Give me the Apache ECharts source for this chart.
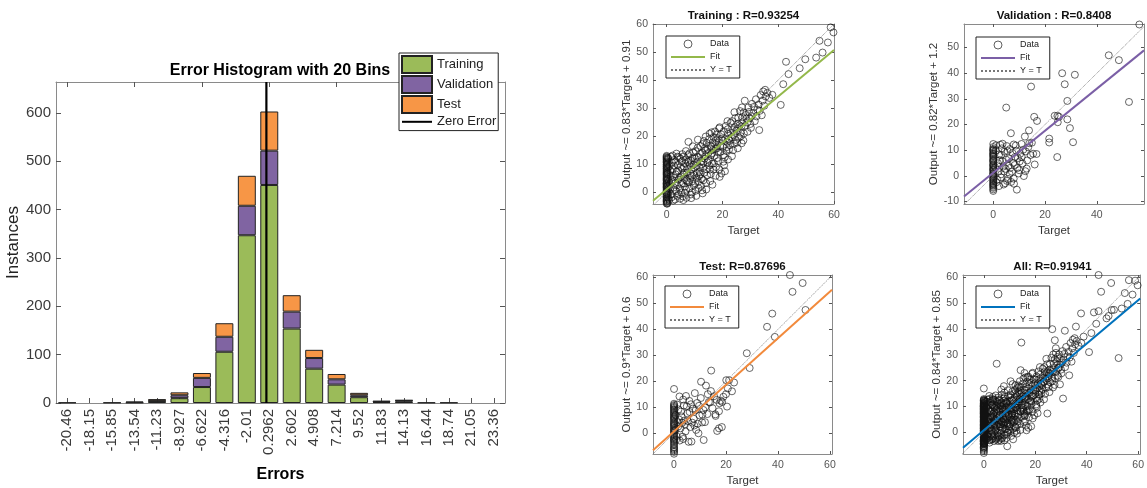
<!DOCTYPE html>
<html>
<head>
<meta charset="utf-8">
<script src="https://cdn.jsdelivr.net/npm/echarts@6/dist/echarts.min.js"></script>
<style>
html,body{margin:0;padding:0;background:#fff;}
#c{width:1147px;height:488px;}
</style>
</head>
<body>
<div id="c"></div>
<script>
// ---------------- DATA ----------------
const binLabels = ['-20.46','-18.15','-15.85','-13.54','-11.23','-8.927','-6.622','-4.316','-2.01','0.2962','2.602','4.908','7.214','9.52','11.83','14.13','16.44','18.74','21.05','23.36'];
const trainCounts = [1,0,1,1,4,10,33,106,347,451,154,71,38,12,2,3,1,1,0,0];
const valCounts   = [0,0,0,2,1,6,19,31,61,71,35,22,11,4,3,2,0,0,0,0];
const testCounts  = [0,0,0,0,3,6,10,28,62,81,34,17,11,5,0,1,0,0,0,0];
const histYMax = 664;
const histYTicks = [0,100,200,300,400,500,600];
const zeroError = 0;

const panelNames = ['Training','Validation','Test','All'];
const panelSep = [' : ',' : ',': ',': '];
const rValues = ['0.93254','0.8408','0.87696','0.91941'];
const fitSlopes = [0.83,0.82,0.9,0.84];
const fitIntercepts = [0.91,1.2,0.6,0.85];

const trainPts = [
[0,-4.4],[0,-3.6],[0,-3.0],[0,-2.1],[0,-1.5],[0,-0.8],[0,-0.2],[0,0.4],[0,1.3],[0,1.9],[0,2.6],[0,3.1],[0,4.0],[0,4.6],[0,5.3],[0,6.1],[0,6.7],[0,7.4],[0,8.2],[0,8.9],[0,9.6],[0,10.4],[0,11.0],[0,11.7],[0,12.3],[0,12.9],
[0,-4.1],[0,-3.3],[0,-2.6],[0,-1.8],[0,-1.0],[0,-0.4],[0,0.1],[0,0.8],[0,1.6],[0,2.2],[0,2.9],[0,3.5],[0,4.3],[0,4.9],[0,5.7],[0,6.4],[0,7.0],[0,7.8],[0,8.5],[0,9.2],[0,9.9],[0,10.7],[0,11.4],[0,12.0],[0,12.6],
[0.2,-4.2],[0.2,2.1],[0.3,6.4],[0.3,10.1],[0.4,-0.4],[0.4,4.6],[0.5,8.8],[0.5,12.2],[0.6,1.3],[0.6,-2.2],
[0.3,-3.9],[0.4,7.1],[0.5,-1.1],[0.6,11.8],[0.7,3.6],[0.9,-2.8],[1.0,9.2],[1.2,0.9],[1.4,5.7],[1.6,12.6],[1.8,-1.9],[2.0,4.3],[2.2,8.1],[2.5,1.6],[2.7,11.4],[3.0,-2.7],[3.2,6.3],[3.5,13.7],[3.7,2.4],[4.0,9.6],[4.3,-0.7],[4.6,5.1],[4.9,11.9],[5.2,2.9],[5.5,8.3],[5.8,-1.6],[6.1,12.7],[6.4,4.6],[6.7,10.1],[7.0,0.8],[7.3,6.9],[7.7,13.2],[7.8,17.9],[8.0,3.4],[8.3,9.5],[8.7,-0.9],[9.0,5.8],[9.3,12.1],[9.7,2.3],[10.0,8.7],[10.4,14.6],[10.7,4.9],[11.0,10.8],[11.4,1.4],[11.8,7.2],[12.1,13.6],[12.5,9.9],[12.9,17.1],[13.2,4.2],[13.6,11.9],[14.0,19.8],[14.3,8.1],[14.7,15.3],[15.1,11.2],[15.4,20.8],[15.8,6.4],[16.2,13.8],[16.5,17.7],[16.9,10.2],[17.3,21.6],[17.6,15.4],[18.0,12.1],[18.4,19.2],[18.8,22.7],[19.2,16.3],[19.6,6.6],[20.0,18.4],[20.4,13.2],[20.9,7.4],[21.2,23.6],[21.6,17.9],[22.0,20.8],[22.4,15.2],[22.9,24.7],[23.3,19.6],[23.7,22.1],[24.2,17.3],[24.6,26.4],[25.0,21.8],[25.5,24.3],[25.9,19.4],[26.3,28.9],[26.8,23.4],[27.2,26.7],[27.7,20.9],[28.0,32.6],[28.4,27.5],[28.9,24.8],[29.3,30.2],[29.8,26.3],[30.2,22.9],[30.6,31.5],[31.1,28.2],[31.6,25.3],[32.0,33.1],[32.5,29.4],[33.0,31.2],[33.2,22.1],[33.7,34.6],[34.1,27.4],[34.6,35.9],[35.0,30.8],[35.5,34.1],[36.1,35.4],[36.8,33.6],[37.9,34.7],
[1.1,2.8],[1.9,10.5],[2.8,5.2],[3.4,0.3],[4.1,7.7],[4.8,-2.4],[5.4,10.9],[6.0,6.2],[6.6,-0.3],[7.2,4.1],[7.9,11.1],[8.5,6.6],[9.1,-0.2],[9.6,9.8],[10.2,3.1],[10.9,12.6],[11.6,5.6],[12.3,2.2],[13.0,8.6],[13.8,14.8],[14.5,5.9],[15.3,9.4],[16.1,16.2],[16.8,8.0],[17.8,18.6],[18.6,14.1],[19.5,20.6],[20.3,10.8],[21.4,14.7],[22.6,18.3],[23.8,14.9],[25.2,17.6],[26.5,21.2],[27.5,18.4],[29.0,21.5],[3.9,12.6],[6.9,14.6],[9.4,16.3],[11.2,18.7],[12.7,0.6],[15.6,3.9],[19.0,5.4],
[1.3,7.6],[1.5,-0.8],[1.7,3.9],[2.1,13.0],[2.3,-3.1],[2.6,9.4],[2.9,0.7],[3.1,3.3],[3.3,10.8],[3.6,7.2],[3.8,-1.4],[4.2,4.4],[4.4,12.4],[4.7,1.2],[5.0,8.9],[5.1,5.5],[5.3,-0.2],[5.6,13.5],[5.9,3.1],[6.2,9.0],[6.3,6.8],[6.5,1.9],[6.8,11.6],[7.1,-2.1],[7.4,8.2],[7.5,3.7],[7.7,10.6],[8.1,1.2],[8.2,13.8],[8.4,5.0],[8.6,11.2],[8.9,7.9],[9.2,3.8],[9.5,14.2],[9.8,6.1],[10.1,11.9],[10.3,0.4],[10.5,9.3],[10.8,6.7],[11.1,15.8],[11.3,3.6],[11.5,12.4],[11.7,9.0],[12.0,6.3],[12.2,16.4],[12.4,11.0],[12.6,4.7],[12.8,14.0],[13.1,10.5],[13.3,18.2],[13.5,6.9],[13.7,15.6],[13.9,12.8],[14.1,3.2],[14.4,17.5],[14.6,10.6],[14.9,13.9],[15.2,18.9],[15.5,8.0],[15.7,16.5],[15.9,13.2],[16.1,21.3],[16.3,10.1],[16.6,15.0],[16.8,19.6],[17.1,12.9],[17.4,17.0],[17.7,8.9],[17.9,20.5],[18.2,15.7],[18.5,11.0],[18.7,17.7],[19.0,23.1],[19.3,14.4],[19.7,18.9],[20.1,16.1],[20.5,21.7],[20.8,12.4],[21.1,19.0],[21.5,16.0],[21.9,22.4],[22.2,18.9],[22.7,16.7],[23.0,21.1],[23.5,25.3],[24.0,20.3],[24.4,23.2],[24.8,18.6],[25.4,22.6],[25.7,26.6],[26.1,23.8],[26.6,19.9],[27.1,24.9],[27.6,28.4],[28.2,23.6],[28.6,26.2],[29.5,28.6],[30.4,27.1],[31.3,30.4],[32.2,27.0],[33.4,29.0],[34.4,32.6],[35.3,36.5],[30.0,24.3],[27.0,30.2],[24.3,28.5],[21.8,25.3],
[6.0,-2.9],[8.8,-2.2],[10.6,-1.4],[12.9,-0.5],[14.2,0.9],[16.4,2.6],[17.6,5.8],[18.9,8.1],[20.6,9.5],[22.0,11.6],[23.4,12.8],[25.5,15.6],[26.9,17.4],
[40.9,31.1],[41.8,38.5],[43.7,42.1],[42.8,46.5],[47.7,44.2],[49.7,47.4],[53.6,48.0],[55.9,49.8],[54.8,54.0],[57.8,53.4],[58.8,58.8],[59.8,57.0]
];
const valPts = [
[0,-11.2],[0,-5.9],[0,-4.7],[0,-3.8],[0,-3.1],[0,-2.2],[0,-1.4],[0,-0.6],[0,0.3],[0,1.0],[0,2.1],[0,2.7],[0,3.8],[0,4.4],[0,5.6],[0,6.2],[0,7.3],[0,8.1],[0,8.8],[0,9.9],[0,10.5],[0,12.4],
[0,-5.3],[0,-4.3],[0,-3.5],[0,-2.7],[0,-1.8],[0,-1.0],[0,-0.2],[0,0.7],[0,1.5],[0,2.4],[0,3.2],[0,4.1],[0,5.0],[0,5.9],[0,6.7],[0,7.7],[0,8.5],[0,9.3],[0,10.1],[0,11.2],
[1.2,-2.5],[1.8,4.9],[2.0,1.6],[2.3,8.3],[2.7,12.1],[3.1,0.6],[3.3,10.7],[3.5,5.7],[3.9,3.6],[4.0,-3.4],[4.3,9.4],[4.6,-2.9],[4.8,2.7],[5.0,26.6],[5.2,11.6],[5.5,9.7],[5.7,-1.2],[6.1,6.8],[6.3,0.7],[6.6,3.1],[6.8,16.6],[6.9,-2.4],[7.4,8.9],[7.7,5.0],[7.9,-1.1],[8.3,4.2],[8.7,11.8],[8.9,9.8],[9.1,-5.4],[9.5,6.9],[9.8,0.9],[10.0,2.2],[10.4,8.6],[10.9,12.4],[11.0,7.3],[11.3,4.8],[11.8,-0.1],[12.2,15.3],[12.6,9.5],[12.9,2.8],[13.1,6.0],[13.5,11.1],[13.8,17.7],[13.9,12.7],[14.4,8.1],[14.6,34.8],[14.9,12.9],[15.4,8.6],[15.8,23.0],[16.0,4.4],[16.7,8.5],[16.9,21.4],
[0.7,3.3],[1.0,9.8],[1.5,-1.5],[2.5,6.1],[2.9,-0.6],[3.6,12.5],[4.2,1.7],[5.0,6.3],[5.9,3.9],[6.4,10.4],[7.2,1.6],[7.9,12.2],[8.4,7.3],[9.3,3.0],[10.2,5.6],[11.6,10.2],[12.4,1.8],[3.0,8.0],[5.3,-2.0],[8.0,-3.1],[2.2,-4.0],[1.1,11.9],
[21.6,14.5],[21.6,13.0],[23.7,23.4],[24.8,23.4],[25.4,23.0],[24.9,20.9],[24.7,7.3],[26.6,40.0],[27.6,35.7],[28.6,29.2],[28.6,22.0],[29.6,18.6],[30.8,13.1],[31.5,39.4],[44.6,47.0],[48.5,45.1],[52.4,28.8],[56.4,59.0]
];
const testPts = [
[0,-8.0],[0,-6.3],[0,-5.4],[0,-4.2],[0,-3.1],[0,-2.3],[0,-1.4],[0,-0.5],[0,0.6],[0,1.4],[0,2.5],[0,3.3],[0,4.1],[0,5.2],[0,6.0],[0,6.9],[0,7.8],[0,8.7],[0,9.6],[0,10.4],[0,11.3],[0,17.0],
[0,-7.3],[0,-6.8],[0,-5.8],[0,-4.7],[0,-3.6],[0,-2.7],[0,-1.9],[0,-0.9],[0,0.1],[0,1.0],[0,1.9],[0,2.9],[0,3.7],[0,4.6],[0,5.6],[0,6.4],[0,7.3],[0,8.2],[0,9.1],[0,10.0],[0,10.8],
[0.8,-2.6],[1.3,4.2],[1.7,9.1],[2.1,14.1],[2.5,1.8],[2.9,6.4],[3.3,-1.4],[3.8,10.6],[3.9,4.8],[4.2,3.3],[4.6,14.3],[5.1,7.6],[5.6,-3.4],[5.9,12.4],[6.3,2.3],[6.7,-3.3],[7.2,9.4],[7.6,5.5],[7.8,2.9],[8.0,15.4],[8.5,1.2],[8.9,11.6],[9.4,-0.1],[9.8,6.8],[10.3,13.5],[10.4,19.8],[10.8,4.1],[11.3,8.9],[11.4,-2.7],[12.3,18.3],[12.8,7.3],[13.4,12.0],[13.9,11.8],[14.2,16.2],[14.3,24.1],[14.8,9.6],[15.4,14.2],[15.9,7.2],[16.0,6.6],[16.4,12.8],[16.6,0.8],[17.3,1.8],[17.3,8.4],[17.5,11.5],[18.0,12.5],[18.4,2.3],[18.5,12.0],[19.0,14.0],[20.0,15.0],[20.1,20.4],[20.4,10.2],[20.7,17.2],[21.2,20.4],[22.3,16.1],[23.1,19.5],
[0.5,1.1],[0.6,6.9],[1.0,-1.2],[1.2,11.0],[1.6,2.5],[2.2,-2.9],[2.7,8.3],[3.1,3.9],[3.5,12.9],[4.4,0.6],[4.9,10.3],[5.3,4.6],[6.0,8.1],[6.5,11.1],[7.0,4.0],[8.3,8.7],[9.1,3.6],[9.6,10.5],[10.9,7.1],[12.0,9.9],[13.0,15.0],[11.9,4.2],[2.0,5.2],[3.6,-2.3],
[28.0,30.8],[29.1,25.1],[35.8,41.0],[37.8,46.1],[38.8,37.1],[44.6,61.0],[45.6,54.5],[49.5,57.9],[50.6,47.5]
];
const allPts = trainPts.concat(valPts, testPts);
const panelPts = [trainPts, valPts, testPts, allPts];
const xTicks = [[0,20,40,60],[0,20,40],[0,20,40,60],[0,20,40,60]];
const yTicks = [[0,10,20,30,40,50,60],[-10,0,10,20,30,40,50],[0,10,20,30,40,50,60],[0,10,20,30,40,50,60]];

// ---------------- STYLE / LAYOUT ----------------
const FONT = 'Liberation Sans, Arial, Helvetica, sans-serif';
const BOX = '#8a8a8a';
const TICK = '#555';
const histColors = ['#9bbb59','#8064a2','#f79646'];
const fitColors = ['#93b84a','#7b5fa6','#f28a3c','#0072bd'];
const noSym = {color:'rgba(0,0,0,0)', borderColor:'rgba(0,0,0,0)', borderWidth:0, opacity:0};
const panelLayout = [
  {grid:{left:653,top:24,width:181,height:180}, x:[-4.9,60], y:[-4.3,60], yGap:19, leg:{left:666,top:36}},
  {grid:{left:964,top:24,width:180,height:180}, x:[-11.3,58.2], y:[-11.0,59.2], yGap:21, leg:{left:976,top:37}},
  {grid:{left:653,top:275,width:179,height:179}, x:[-8.1,60.8], y:[-8.1,61], yGap:19, leg:{left:665,top:286}},
  {grid:{left:963,top:275,width:179,height:179}, x:[-8.1,60.8], y:[-8.4,61], yGap:19, leg:{left:976,top:286}}
];

const binW = (parseFloat(binLabels[binLabels.length-1]) - parseFloat(binLabels[0])) / (binLabels.length - 1);
const histXMin = parseFloat(binLabels[0]) - binW/2;
const histXMax = parseFloat(binLabels[binLabels.length-1]) + binW/2;
const nz = a => a.map(v => v === 0 ? '-' : v);

const grids = [{left:56, top:82, width:449, height:322}];
const xAxes = [
  {type:'category', gridIndex:0, data:binLabels, position:'bottom',
   axisLine:{show:true, onZero:false, lineStyle:{color:BOX}},
   axisTick:{show:true, inside:true, alignWithLabel:true, length:5, lineStyle:{color:TICK}},
   axisLabel:{interval:0, rotate:90, fontSize:15, color:'#3a3a3a', fontFamily:FONT, margin:6},
   name:'Errors', nameLocation:'middle', nameGap:64,
   nameTextStyle:{fontSize:16, fontWeight:'bold', color:'#000', fontFamily:FONT}},
  {type:'value', gridIndex:0, show:false, min:histXMin, max:histXMax},
  {type:'category', gridIndex:0, data:binLabels, position:'top',
   axisLine:{show:true, onZero:false, lineStyle:{color:BOX}},
   axisTick:{show:true, inside:true, alignWithLabel:true, length:5, lineStyle:{color:TICK}},
   axisLabel:{show:false}}
];
const yAxes = [
  {type:'value', gridIndex:0, min:0, max:histYMax, position:'left',
   axisLine:{show:true, onZero:false, lineStyle:{color:BOX}},
   axisTick:{show:true, inside:true, length:5, customValues:histYTicks, lineStyle:{color:TICK}},
   axisLabel:{customValues:histYTicks, fontSize:15, color:'#3a3a3a', fontFamily:FONT, margin:5},
   splitLine:{show:false},
   name:'Instances', nameLocation:'middle', nameGap:31,
   nameTextStyle:{fontSize:17, color:'#222', fontFamily:FONT}},
  {type:'value', gridIndex:0, min:0, max:histYMax, position:'right',
   axisLine:{show:true, onZero:false, lineStyle:{color:BOX}},
   axisTick:{show:true, inside:true, length:5, customValues:histYTicks, lineStyle:{color:TICK}},
   axisLabel:{show:false}, splitLine:{show:false}}
];
const titles = [{text:'Error Histogram with 20 Bins', left:280, top:63, textAlign:'center', padding:0,
  textStyle:{fontSize:16, fontWeight:'bold', color:'#000', fontFamily:FONT}}];
const series = [];
const legends = [{
  orient:'vertical', left:399, top:53, itemWidth:30, itemHeight:17, itemGap:1,
  padding:[2,2,2,2], borderColor:'#222', borderWidth:1, backgroundColor:'#fff',
  textStyle:{fontSize:13, color:'#222', fontFamily:FONT},
  data:[{name:'Training', icon:'rect'},{name:'Validation', icon:'rect'},{name:'Test', icon:'rect'},{name:'Zero Error', itemStyle:noSym}]
}];

['Training','Validation','Test'].forEach((nm,i)=>{
  series.push({type:'bar', name:nm, stack:'h', xAxisIndex:0, yAxisIndex:0, barWidth:'80%',
    data: nz([trainCounts,valCounts,testCounts][i]),
    itemStyle:{color:histColors[i], borderColor:'#222', borderWidth:1}});
});
series.push({type:'line', name:'Zero Error', xAxisIndex:1, yAxisIndex:0, symbol:'none', z:5,
  data:[[zeroError,0],[zeroError,histYMax]], lineStyle:{color:'#000', width:2.2}, itemStyle:{color:'#000'}});

panelLayout.forEach((p,i)=>{
  const g = i+1, xb = 3+2*i, yl = 2+2*i;
  grids.push(p.grid);
  xAxes.push({type:'value', gridIndex:g, min:p.x[0], max:p.x[1], position:'bottom',
    axisLine:{show:true, onZero:false, lineStyle:{color:BOX}},
    axisTick:{show:true, inside:true, length:3, customValues:xTicks[i], lineStyle:{color:TICK}},
    axisLabel:{customValues:xTicks[i], fontSize:10.5, color:'#555', fontFamily:FONT, margin:6},
    splitLine:{show:false},
    name:'Target', nameLocation:'middle', nameGap:21,
    nameTextStyle:{fontSize:11.5, color:'#333', fontFamily:FONT}});
  xAxes.push({type:'value', gridIndex:g, min:p.x[0], max:p.x[1], position:'top',
    axisLine:{show:true, onZero:false, lineStyle:{color:BOX}},
    axisTick:{show:true, inside:true, length:3, customValues:xTicks[i], lineStyle:{color:TICK}},
    axisLabel:{show:false}, splitLine:{show:false}});
  yAxes.push({type:'value', gridIndex:g, min:p.y[0], max:p.y[1], position:'left',
    axisLine:{show:true, onZero:false, lineStyle:{color:BOX}},
    axisTick:{show:true, inside:true, length:3, customValues:yTicks[i], lineStyle:{color:TICK}},
    axisLabel:{customValues:yTicks[i], fontSize:10.5, color:'#555', fontFamily:FONT, margin:5},
    splitLine:{show:false},
    name:'Output ~= ' + fitSlopes[i] + '*Target + ' + fitIntercepts[i], nameLocation:'middle', nameGap:p.yGap,
    nameTextStyle:{fontSize:11.5, color:'#333', fontFamily:FONT}});
  yAxes.push({type:'value', gridIndex:g, min:p.y[0], max:p.y[1], position:'right',
    axisLine:{show:true, onZero:false, lineStyle:{color:BOX}},
    axisTick:{show:true, inside:true, length:3, customValues:yTicks[i], lineStyle:{color:TICK}},
    axisLabel:{show:false}, splitLine:{show:false}});
  titles.push({text: panelNames[i] + panelSep[i] + 'R=' + rValues[i],
    left: p.grid.left + p.grid.width/2, top: p.grid.top - 14, textAlign:'center', padding:0,
    textStyle:{fontSize:11.5, fontWeight:'bold', color:'#111', fontFamily:FONT}});
  const lo = Math.min(p.x[0], p.y[0]), hi = Math.max(p.x[1], p.y[1]);
  series.push({type:'scatter', name:'Data|'+i, xAxisIndex:xb, yAxisIndex:yl, symbol:'circle', symbolSize:7, z:2,
    data: panelPts[i], itemStyle:{color:'rgba(0,0,0,0)', borderColor:'#111', borderWidth:0.8}});
  series.push({type:'line', name:'Fit|'+i, xAxisIndex:xb, yAxisIndex:yl, symbol:'none', z:3, clip:true,
    data: [[p.x[0], fitSlopes[i]*p.x[0]+fitIntercepts[i]],[p.x[1], fitSlopes[i]*p.x[1]+fitIntercepts[i]]],
    lineStyle:{color:fitColors[i], width:2}, itemStyle:{color:fitColors[i]}});
  series.push({type:'line', name:'Y = T|'+i, xAxisIndex:xb, yAxisIndex:yl, symbol:'none', z:3, clip:true,
    data: [[lo,lo],[hi,hi]],
    lineStyle:{color:'#777', width:0.9, type:'dotted'}, itemStyle:{color:'#777'}});
  legends.push({orient:'vertical', left:p.leg.left, top:p.leg.top, itemWidth:34, itemHeight:8, itemGap:1,
    padding:[2,8,2,4], borderColor:'#222', borderWidth:1, backgroundColor:'#fff',
    textStyle:{fontSize:9, lineHeight:12, color:'#222', fontFamily:FONT},
    formatter: n => n.split('|')[0],
    data:[{name:'Data|'+i, icon:'circle', itemStyle:{color:'rgba(0,0,0,0)', borderColor:'#222', borderWidth:0.9}},
          {name:'Fit|'+i, itemStyle:noSym},
          {name:'Y = T|'+i, itemStyle:noSym}]});
});

const chart = echarts.init(document.getElementById('c'), null, {renderer:'canvas'});
chart.setOption({
  animation:false,
  backgroundColor:'#fff',
  title: titles,
  legend: legends,
  grid: grids,
  xAxis: xAxes,
  yAxis: yAxes,
  series: series
});
</script>
</body>
</html>
